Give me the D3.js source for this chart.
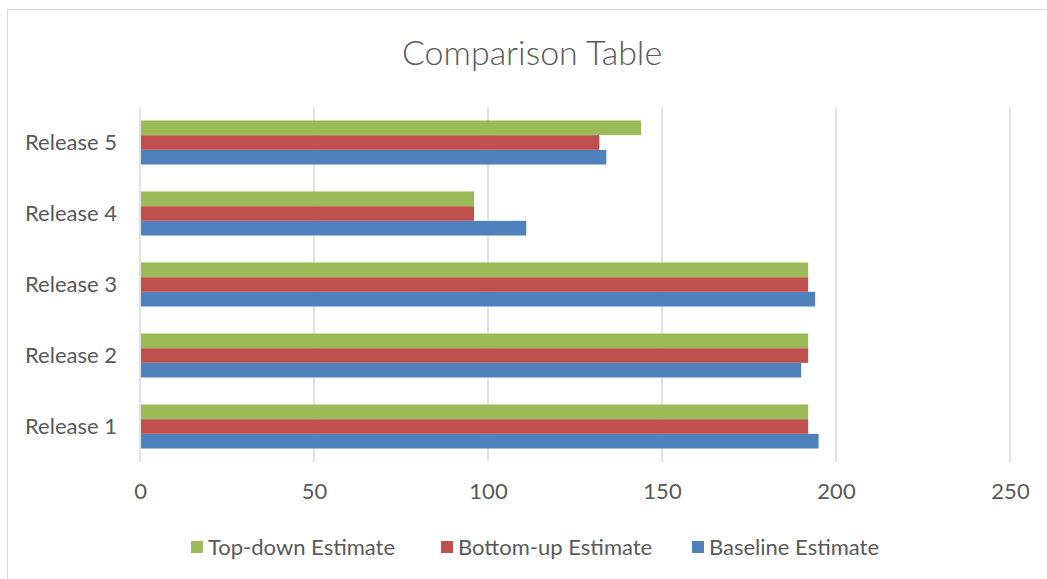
<!DOCTYPE html>
<html>
<head>
<meta charset="utf-8">
<script src="https://cdn.jsdelivr.net/npm/d3@7"></script>
<style>
  body { margin: 0; background: #fff; }
  text { font-family: Lato, "Open Sans", sans-serif; fill: #595959; }
</style>
</head>
<body>
<svg id="chart" width="1047" height="579"></svg>
<script>
// data
var releases = ["Release 1", "Release 2", "Release 3", "Release 4", "Release 5"];
var seriesNames = ["Baseline Estimate", "Bottom-up Estimate", "Top-down Estimate"];
var baseline = [195, 190, 194, 111, 134];
var bottomUp = [192, 192, 192, 96, 132];
var topDown = [192, 192, 192, 96, 144];
var xTicks = [0, 50, 100, 150, 200, 250];
var colors = ["#4f81bd", "#c0504d", "#9bbb59"];

var width = 1047, height = 579;
var svg = d3.select("#chart");

// chart frame
svg.append("rect")
  .attr("x", 7.5).attr("y", 9.5)
  .attr("width", width).attr("height", height)
  .attr("fill", "white")
  .attr("stroke", "#d9d9d9");

var plot = {left: 140, right: 1010, top: 107, bottom: 462};

var x = d3.scaleLinear().domain([0, 250]).range([plot.left, plot.right]);

// Release 1 at the bottom, like Excel
var y = d3.scaleBand()
  .domain(releases)
  .range([plot.bottom, plot.top])
  .paddingInner(0.38)
  .paddingOuter(0.19);

var rows = releases.map(function(r, i) {
  return {release: r, values: [baseline[i], bottomUp[i], topDown[i]]};
});

// inner band: series 0 (baseline) at the bottom of each group
var yInner = d3.scaleBand()
  .domain([2, 1, 0])
  .range([0, y.bandwidth()]);

// title
svg.append("text")
  .attr("x", 532).attr("y", 65)
  .attr("text-anchor", "middle")
  .style("font-size", "34px")
  .style("font-weight", 300)
  .text("Comparison Table");

// gridlines
svg.append("g")
  .selectAll("line")
  .data(xTicks)
  .enter().append("line")
  .attr("x1", function(d) { return x(d); })
  .attr("x2", function(d) { return x(d); })
  .attr("y1", plot.top)
  .attr("y2", plot.bottom)
  .attr("stroke", "#d9d9d9")
  .attr("stroke-width", 1.5);

// bars
var group = svg.append("g")
  .selectAll("g")
  .data(rows)
  .enter().append("g")
  .attr("transform", function(d) { return "translate(0," + y(d.release) + ")"; });

group.selectAll("rect")
  .data(function(d) { return d.values; })
  .enter().append("rect")
  .attr("x", x(0) + 1)
  .attr("y", function(d, i) { return yInner(i); })
  .attr("width", function(d) { return x(d) - x(0) - 1; })
  .attr("height", yInner.bandwidth())
  .attr("fill", function(d, i) { return colors[i]; });

// x axis labels
var xAxis = svg.append("g")
  .attr("transform", "translate(0," + plot.bottom + ")")
  .call(d3.axisBottom(x).tickValues(xTicks).tickSize(0).tickPadding(21));
xAxis.select(".domain").remove();
xAxis.selectAll("text")
  .style("font-size", "22px")
  .style("font-family", "Lato, sans-serif")
  .attr("fill", "#595959");

// y axis labels
var yAxis = svg.append("g")
  .attr("transform", "translate(" + plot.left + ",0)")
  .call(d3.axisLeft(y).tickSize(0).tickPadding(23));
yAxis.select(".domain").remove();
yAxis.selectAll("text")
  .style("font-size", "22px")
  .style("font-family", "Lato, sans-serif")
  .attr("fill", "#595959");

// legend
var legendItems = [
  {name: seriesNames[2], color: colors[2], x: 191},
  {name: seriesNames[1], color: colors[1], x: 441},
  {name: seriesNames[0], color: colors[0], x: 692}
];
var legend = svg.append("g")
  .selectAll("g")
  .data(legendItems)
  .enter().append("g")
  .attr("transform", function(d) { return "translate(" + d.x + ",547)"; });
legend.append("rect")
  .attr("x", 0).attr("y", -6)
  .attr("width", 12).attr("height", 12)
  .attr("fill", function(d) { return d.color; });
legend.append("text")
  .attr("x", 17).attr("y", 0)
  .attr("dy", "0.35em")
  .style("font-size", "22px")
  .text(function(d) { return d.name; });
</script>
</body>
</html>
